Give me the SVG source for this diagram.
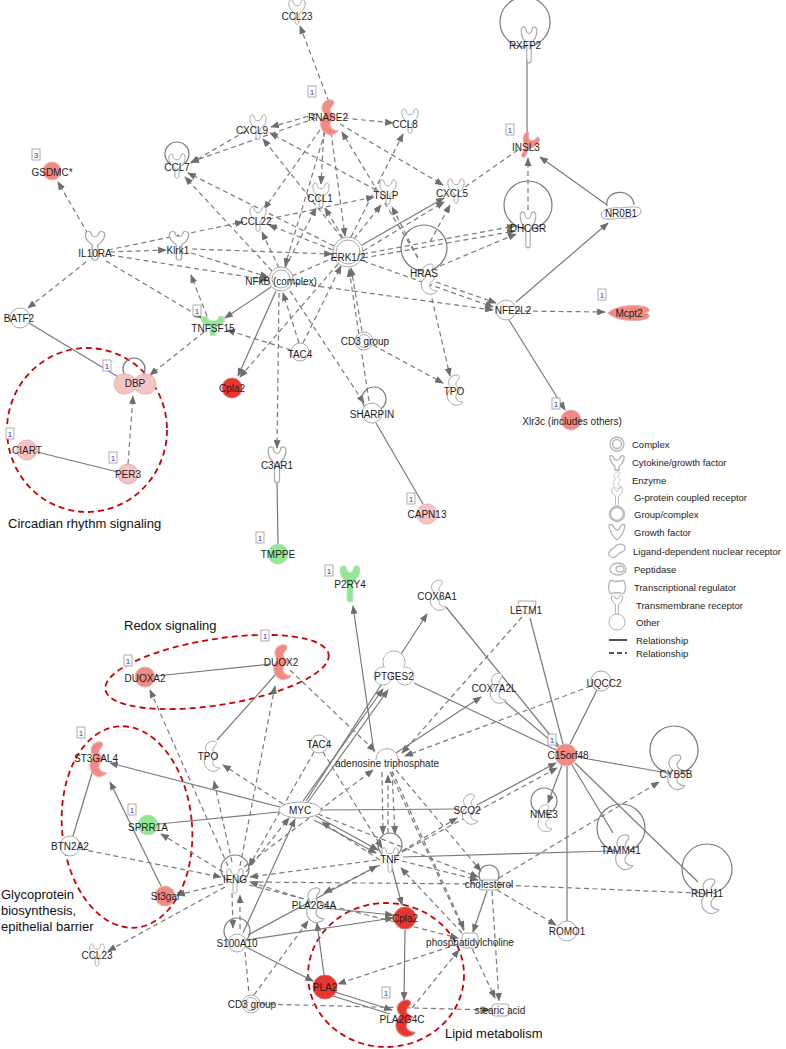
<svg xmlns="http://www.w3.org/2000/svg" width="786" height="1049" viewBox="0 0 786 1049">
<style>
.c{fill:none;stroke:#7a7a7a;stroke-width:1.2}
.d{stroke-dasharray:5 3.5}
.a{marker-end:url(#ah)}
.lp{fill:none;stroke:#7a7a7a;stroke-width:1.2}
.n{fill:#fff;stroke:#a8a8a8;stroke-width:1}
.r1{fill:#e8352e;stroke:#e07070;stroke-width:1}
.r2{fill:#f28a83;stroke:#eab0b0;stroke-width:1}
.r3{fill:#f6c2c2;stroke:#e0b4b4;stroke-width:1}
.g{fill:#92e892;stroke:#b8e0b8;stroke-width:1}
.t{font-family:"Liberation Sans",Arial,sans-serif;font-size:10px;fill:#1e1e1e;text-anchor:middle;dominant-baseline:central}
.lg{font-family:"Liberation Sans",Arial,sans-serif;font-size:9.5px;fill:#1e1e1e;dominant-baseline:central}
.an{font-family:"Liberation Sans",Arial,sans-serif;font-size:13px;fill:#111}
.bx{fill:#fff;stroke:#9a9a9a;stroke-width:0.8}
.bt{font-family:"Liberation Sans",Arial,sans-serif;font-size:8px;fill:#3333cc;text-anchor:middle;dominant-baseline:central}
.rd{fill:none;stroke:#cc0000;stroke-width:1.8;stroke-dasharray:6 4}
.li{fill:#fff;stroke:#b4b4b4;stroke-width:1.3}
.lt{stroke:#555;stroke-width:2}
</style>
<defs>
<marker id="ah" viewBox="0 0 10 8" refX="9" refY="4" markerWidth="9" markerHeight="7" markerUnits="userSpaceOnUse" orient="auto"><path d="M0,0 L10,4 L0,8 z" fill="#6e6e6e"/></marker>
<path id="enz" d="M2,-15 C-6,-14 -8,-6 -2,-2 C-9,2 -8,12 0,15 C4,16 8,14 9,12 C4,12 1,9 2,5 C3,2 6,1 7,-1 C2,-3 0,-6 4,-10 C6,-12 6,-15 2,-15 Z"/>
<path id="cyt" d="M-8,-10 C-9,-3 -4,0 -2,2 L-2,10 C-2,13 2,13 2,10 L2,2 C4,0 9,-3 8,-10 C7,-13 4,-13 4,-10 C3,-5 -3,-5 -4,-10 C-4,-13 -7,-13 -8,-10 Z"/>
<path id="gpc" d="M-7,-13 C-8,-5 -3,-3 -2,-1 L-2,12 C-2,15 2,15 2,12 L2,-1 C3,-3 8,-5 7,-13 C6,-15 3,-15 3,-13 C2,-8 -2,-8 -3,-13 C-3,-15 -6,-15 -7,-13 Z"/>
<path id="treg" d="M-11,-10 C-24,-10 -24,10 -11,10 C-5,10 -1,7 0,5 C1,7 5,10 11,10 C24,10 24,-10 11,-10 C5,-10 1,-7 0,-5 C-1,-7 -5,-10 -11,-10 Z"/>
<path id="pep" d="M-21,0 C-14,-8 8,-9 17,-6 C22,-4 21,0 15,0 C21,0 22,4 17,6 C8,9 -14,8 -21,0 Z"/>
<path id="ldn" d="M-20,2 C-20,-4 -8,-6 0,-5 C8,-6 20,-8 20,-2 C20,4 8,6 0,5 C-8,6 -20,8 -20,2 Z"/>
<path id="cup" d="M-9,-6 L9,-6 C9,2 4,7 0,7 C-4,7 -9,2 -9,-6 Z"/>
</defs>
<rect width="786" height="1049" fill="#fff"/>

<g id="annotations">
<ellipse class="rd" cx="87" cy="430" rx="80" ry="82"/>
<ellipse class="rd" cx="217" cy="672" rx="113" ry="33" transform="rotate(-9 217 672)"/>
<ellipse class="rd" cx="127" cy="827" rx="65" ry="101" transform="rotate(-5 127 827)"/>
<ellipse class="rd" cx="386" cy="975" rx="78" ry="72"/>
<text class="an" x="8" y="528">Circadian rhythm signaling</text>
<text class="an" x="124" y="630">Redox signaling</text>
<text class="an" x="1" y="899">Glycoprotein</text>
<text class="an" x="1" y="915">biosynthesis,</text>
<text class="an" x="1" y="931">epithelial barrier</text>
<text class="an" x="445" y="1038">Lipid metabolism</text>
</g>

<g id="connectors">
<path class="c d a" d="M329,102 L300,26"/>
<path class="c d a" d="M316,114 L271,127"/>
<path class="c d a" d="M344,118 L393,123"/>
<path class="c d a" d="M316,118 L191,162"/>
<path class="c d a" d="M340,124 L443,185"/>
<path class="c d a" d="M324,130 L321,184"/>
<path class="c d a" d="M320,130 L264,209"/>
<path class="c d a" d="M331,132 L345,236"/>
<path class="c d a" d="M325,132 L285,266"/>
<path class="c d a" d="M418,258 L342,132"/>
<path class="c d a" d="M376,190 L270,133"/>
<path class="c d a" d="M246,131 L191,163"/>
<path class="c d a" d="M342,238 L263,139"/>
<path class="c d a" d="M334,246 L188,173"/>
<path class="c d a" d="M272,271 L185,177"/>
<path class="c d a" d="M333,250 L269,225"/>
<path class="c d a" d="M108,250 L243,222"/>
<path class="c d a" d="M110,252 L166,250"/>
<path class="c d a" d="M88,234 L58,182"/>
<path class="c d a" d="M86,262 L28,308"/>
<path class="c d a" d="M110,255 L268,280"/>
<path class="c d a" d="M106,261 L202,318"/>
<path class="c d a" d="M191,253 L268,277"/>
<path class="c d a" d="M192,249 L332,254"/>
<path class="c d" d="M292,276 L333,258"/>
<path class="c d a" d="M268,219 L374,197"/>
<path class="c d a" d="M343,238 L325,208"/>
<path class="c d a" d="M354,239 L381,205"/>
<path class="c d a" d="M351,237 L403,134"/>
<path class="c a" d="M362,245 L444,198"/>
<path class="c d a" d="M363,251 L444,202"/>
<path class="c d a" d="M285,268 L316,208"/>
<path class="c d a" d="M363,254 L515,226"/>
<path class="c d a" d="M363,258 L515,231"/>
<path class="c d a" d="M440,266 L516,234"/>
<path class="c d a" d="M528,210 L528,158"/>
<path class="c" d="M527,58 L527,134"/>
<path class="c a" d="M607,205 L540,157"/>
<path class="c a" d="M516,302 L608,223"/>
<path class="c d a" d="M516,311 L605,312"/>
<path class="c a" d="M509,320 L565,410"/>
<path class="c d a" d="M363,261 L493,307"/>
<path class="c d a" d="M294,283 L493,310"/>
<path class="c d a" d="M436,282 L496,303"/>
<path class="c d" d="M518,150 L465,187"/>
<path class="c d a" d="M430,290 L450,376"/>
<path class="c d a" d="M430,242 L450,205"/>
<path class="c d a" d="M418,258 L392,207"/>
<path class="c d a" d="M373,345 L443,383"/>
<path class="c d a" d="M362,331 L351,268"/>
<path class="c d a" d="M369,401 L349,269"/>
<path class="c d a" d="M290,291 L364,403"/>
<path class="c" d="M376,423 L423,504"/>
<path class="c d a" d="M279,293 L277,448"/>
<path class="c" d="M277,482 L278,544"/>
<path class="c a" d="M276,291 L238,376"/>
<path class="c d a" d="M338,264 L240,377"/>
<path class="c a" d="M271,287 L225,318"/>
<path class="c d a" d="M291,350 L227,330"/>
<path class="c d a" d="M299,343 L283,293"/>
<path class="c d a" d="M303,343 L341,266"/>
<path class="c d a" d="M204,332 L150,375"/>
<path class="c" d="M29,323 L120,378"/>
<path class="c d a" d="M128,464 L133,396"/>
<path class="c" d="M37,452 L118,472"/>
<path class="c d a" d="M207,316 L191,275"/>
<path class="c d a" d="M279,268 L262,232"/>

<path class="c" d="M156,676 L271,664"/>
<path class="c" d="M217,740 L276,674"/>
<path class="c d a" d="M290,670 L375,751"/>
<path class="c d a" d="M228,866 L150,690"/>
<path class="c d a" d="M240,866 L275,686"/>
<path class="c d a" d="M232,862 L214,781"/>
<path class="c d a" d="M283,804 L223,765"/>
<path class="c a" d="M280,807 L110,763"/>
<path class="c" d="M92,773 L73,836"/>
<path class="c a" d="M161,886 L110,782"/>
<path class="c" d="M279,812 L159,824"/>
<path class="c d a" d="M223,872 L161,834"/>
<path class="c d a" d="M80,849 L221,877"/>
<path class="c d a" d="M223,884 L177,895"/>
<path class="c d a" d="M225,887 L108,951"/>
<path class="c d a" d="M232,893 L233,928"/>
<path class="c d a" d="M240,929 L240,895"/>
<path class="c d" d="M245,952 L249,994"/>
<path class="c a" d="M303,801 L383,689"/>
<path class="c a" d="M308,802 L388,690"/>
<path class="c a" d="M306,801 L427,614"/>
<path class="c a" d="M374,752 L353,606"/>
<path class="c" d="M446,607 L559,746"/>
<path class="c" d="M530,618 L563,744"/>
<path class="c d a" d="M522,617 L402,753"/>
<path class="c" d="M414,683 L556,750"/>
<path class="c a" d="M396,753 L481,697"/>
<path class="c" d="M503,700 L558,747"/>
<path class="c" d="M597,690 L570,744"/>
<path class="c d a" d="M591,686 L405,756"/>
<path class="c" d="M577,757 L662,772"/>
<path class="c" d="M572,765 L613,833"/>
<path class="c" d="M575,763 L698,882"/>
<path class="c" d="M567,766 L567,921"/>
<path class="c a" d="M562,765 L548,803"/>
<path class="c a" d="M477,805 L556,763"/>
<path class="c d a" d="M402,852 L557,768"/>
<path class="c" d="M321,810 L459,809"/>
<path class="c d a" d="M402,851 L457,818"/>
<path class="c" d="M403,857 L610,851"/>
<path class="c d a" d="M499,878 L659,782"/>
<path class="c d" d="M499,885 L697,893"/>
<path class="c d a" d="M497,890 L556,925"/>
<path class="c a" d="M487,891 L473,932"/>
<path class="c d a" d="M492,891 L499,1001"/>
<path class="c d a" d="M402,861 L478,880"/>
<path class="c d a" d="M462,933 L401,868"/>
<path class="c a" d="M392,868 L402,905"/>
<path class="c a" d="M405,930 L404,1000"/>
<path class="c a" d="M324,975 L317,923"/>
<path class="c a" d="M335,992 L392,1010"/>
<path class="c" d="M333,996 L390,1014"/>
<path class="c d a" d="M458,944 L338,984"/>
<path class="c d a" d="M412,1008 L459,950"/>
<path class="c d a" d="M261,1004 L490,1010"/>
<path class="c a" d="M246,947 L313,981"/>
<path class="c a" d="M247,940 L393,918"/>
<path class="c a" d="M324,908 L393,915"/>
<path class="c d a" d="M380,865 L324,893"/>
<path class="c a" d="M316,816 L378,850"/>
<path class="c a" d="M314,820 L376,853"/>
<path class="c d a" d="M380,860 L322,822"/>
<path class="c d a" d="M382,772 L383,834"/>
<path class="c d a" d="M392,772 L395,834"/>
<path class="c d a" d="M388,833 L388,775"/>
<path class="c d a" d="M246,872 L289,818"/>
<path class="c d a" d="M244,867 L373,770"/>
<path class="c d a" d="M377,860 L250,877"/>
<path class="c d a" d="M304,899 L250,882"/>
<path class="c d a" d="M396,770 L481,871"/>
<path class="c d a" d="M392,771 L464,929"/>
<path class="c d a" d="M390,772 L495,998"/>
<path class="c d" d="M250,882 L476,884"/>
<path class="c d a" d="M323,752 L382,848"/>
<path class="c d a" d="M314,752 L249,866"/>
<path class="c d a" d="M254,995 L308,921"/>
<path class="c a" d="M243,933 L295,819"/>
<path class="c a" d="M248,935 L377,866"/>
<path class="c d a" d="M249,885 L458,938"/>
<path class="c d a" d="M318,814 L478,877"/>
</g>

<g id="n-ccl23a"><use href="#cyt" class="n" transform="translate(297,12)"/><text class="t" x="297" y="16">CCL23</text></g>
<g id="n-rnase2"><use href="#enz" class="r2" transform="translate(328,117) scale(1.1,1.15)"/><text class="t" x="328" y="117">RNASE2</text><rect class="bx" x="308" y="86" width="8" height="11"/><text class="bt" x="312" y="92">1</text></g>
<g id="n-cxcl9"><use href="#cyt" class="n" transform="translate(258,127)"/><text class="t" x="252" y="130">CXCL9</text></g>
<g id="n-ccl8"><use href="#cyt" class="n" transform="translate(410,121)"/><text class="t" x="405" y="124">CCL8</text></g>
<g id="n-ccl7"><circle class="lp" cx="177" cy="154" r="12"/><use href="#cyt" class="n" transform="translate(177,166)"/><text class="t" x="177" y="167">CCL7</text></g>
<g id="n-gsdmc"><circle class="r2" cx="52" cy="171" r="9"/><text class="t" x="52" y="172">GSDMC*</text><rect class="bx" x="32" y="149" width="8" height="11"/><text class="bt" x="36" y="155">3</text></g>
<g id="n-ccl1"><use href="#cyt" class="n" transform="translate(321,195)"/><text class="t" x="320" y="198">CCL1</text></g>
<g id="n-tslp"><use href="#cyt" class="n" transform="translate(388,192)"/><text class="t" x="386" y="195">TSLP</text></g>
<g id="n-cxcl5"><use href="#cyt" class="n" transform="translate(456,191)"/><text class="t" x="452" y="193">CXCL5</text></g>
<g id="n-ccl22"><use href="#cyt" class="n" transform="translate(258,219)"/><text class="t" x="256" y="221">CCL22</text></g>
<g id="n-il10ra"><use href="#gpc" class="n" transform="translate(95,246) scale(1.35,1)"/><text class="t" x="95" y="253">IL10RA</text></g>
<g id="n-klrk1"><use href="#gpc" class="n" transform="translate(179,246) scale(1.35,1)"/><text class="t" x="178" y="250">Klrk1</text></g>
<g id="n-erk"><circle class="n" cx="348" cy="252" r="15"/><circle class="n" cx="348" cy="252" r="12"/><text class="t" x="348" y="257">ERK1/2</text></g>
<g id="n-hras"><circle class="lp" cx="424" cy="248" r="23"/><use href="#enz" class="n" transform="translate(428,279)"/><text class="t" x="424" y="273">HRAS</text></g>
<g id="n-dhcgr"><circle class="lp" cx="528" cy="205" r="24"/><use href="#gpc" class="n" transform="translate(528,230) scale(1.1,1.25)"/><text class="t" x="528" y="228">DHCGR</text></g>
<g id="n-rxfp2"><circle class="lp" cx="525" cy="22" r="25"/><use href="#gpc" class="n" transform="translate(529,45) scale(1.1,1.25)"/><text class="t" x="525" y="45">RXFP2</text></g>
<g id="n-insl3"><use href="#cyt" class="r2" transform="translate(528,146) rotate(25)"/><text class="t" x="526" y="147">INSL3</text><rect class="bx" x="506" y="124" width="8" height="11"/><text class="bt" x="510" y="130">1</text></g>
<g id="n-nr0b1"><path class="lp" d="M607,206 C604,190 632,186 634,205"/><use href="#ldn" class="n" transform="translate(621,213)"/><text class="t" x="621" y="213">NR0B1</text></g>
<g id="n-nfkb"><circle class="n" cx="281" cy="279" r="12"/><circle class="n" cx="281" cy="279" r="9"/><text class="t" x="281" y="281">NFkB (complex)</text></g>
<g id="n-nfe2l2"><circle class="n" cx="506" cy="310" r="10"/><text class="t" x="513" y="310">NFE2L2</text></g>
<g id="n-mcpt2"><use href="#pep" class="r2" transform="translate(629,313)"/><text class="t" x="629" y="313">Mcpt2</text><rect class="bx" x="598" y="289" width="8" height="11"/><text class="bt" x="602" y="295">1</text></g>
<g id="n-batf2"><circle class="n" cx="20" cy="318" r="10"/><text class="t" x="19" y="318">BATF2</text></g>
<g id="n-tnfsf15"><use href="#cyt" class="g" transform="translate(213,326) scale(1.4,0.8)"/><text class="t" x="213" y="328">TNFSF15</text><rect class="bx" x="193" y="305" width="8" height="11"/><text class="bt" x="197" y="311">1</text></g>
<g id="n-tac4a"><circle class="n" cx="300" cy="352" r="9"/><text class="t" x="300" y="354">TAC4</text></g>
<g id="n-cd3a"><circle class="n" cx="364" cy="341" r="9"/><circle class="n" cx="364" cy="341" r="6.5"/><text class="t" x="365" y="341">CD3 group</text></g>
<g id="n-dbp"><circle class="lp" cx="134" cy="369" r="11"/><use href="#treg" class="r3" transform="translate(135,384)"/><text class="t" x="135" y="383">DBP</text><rect class="bx" x="103" y="360" width="8" height="11"/><text class="bt" x="107" y="366">1</text></g>
<g id="n-cpla2a"><circle class="r1" cx="232" cy="388" r="10"/><text class="t" x="232" y="388">Cpla2</text></g>
<g id="n-tpoa"><use href="#enz" class="n" transform="translate(454,390)"/><text class="t" x="454" y="391">TPO</text></g>
<g id="n-sharpin"><circle class="lp" cx="374" cy="399" r="12"/><circle class="n" cx="372" cy="413" r="10"/><text class="t" x="372" y="414">SHARPIN</text></g>
<g id="n-xlr3c"><circle class="r2" cx="571" cy="420" r="10"/><text class="t" x="572" y="421">Xlr3c (includes others)</text><rect class="bx" x="552" y="398" width="8" height="11"/><text class="bt" x="556" y="404">1</text></g>
<g id="n-ciart"><circle class="r3" cx="27" cy="450" r="10"/><text class="t" x="27" y="450">CIART</text><rect class="bx" x="6" y="428" width="8" height="11"/><text class="bt" x="10" y="434">1</text></g>
<g id="n-per3"><circle class="r3" cx="128" cy="474" r="10"/><text class="t" x="128" y="474">PER3</text><rect class="bx" x="109" y="452" width="8" height="11"/><text class="bt" x="113" y="458">1</text></g>
<g id="n-c3ar1"><use href="#gpc" class="n" transform="translate(277,465) scale(1.25)"/><text class="t" x="277" y="465">C3AR1</text></g>
<g id="n-capn13"><circle class="r3" cx="427" cy="514" r="10"/><text class="t" x="427" y="514">CAPN13</text><rect class="bx" x="407" y="493" width="8" height="11"/><text class="bt" x="411" y="499">1</text></g>
<g id="n-tmppe"><circle class="g" cx="278" cy="554" r="10"/><text class="t" x="278" y="554">TMPPE</text><rect class="bx" x="256" y="532" width="8" height="11"/><text class="bt" x="260" y="538">1</text></g>

<g id="n-p2ry4"><use href="#gpc" class="g" transform="translate(350,584) scale(1.35,1.25)"/><text class="t" x="350" y="584">P2RY4</text><rect class="bx" x="325" y="565" width="8" height="11"/><text class="bt" x="329" y="571">1</text></g>
<g id="n-cox6a1"><use href="#enz" class="n" transform="translate(437,595)"/><text class="t" x="437" y="596">COX6A1</text></g>
<g id="n-letm1"><use href="#cup" class="n" transform="translate(527,607)"/><text class="t" x="526" y="610">LETM1</text></g>
<g id="n-duox2"><use href="#enz" class="r2" transform="translate(281,662) scale(1.1,1.15)"/><text class="t" x="281" y="662">DUOX2</text><rect class="bx" x="261" y="630" width="8" height="11"/><text class="bt" x="265" y="636">1</text></g>
<g id="n-duoxa2"><circle class="r2" cx="145" cy="677" r="10"/><text class="t" x="145" y="678">DUOXA2</text><rect class="bx" x="124" y="655" width="8" height="11"/><text class="bt" x="128" y="661">1</text></g>
<g id="n-ptges2"><circle class="n" cx="394" cy="662" r="11"/><circle class="n" cx="383" cy="676" r="9"/><circle class="n" cx="405" cy="676" r="9"/><circle cx="394" cy="662" r="10.5" fill="#fff"/><circle cx="383" cy="676" r="8.5" fill="#fff"/><circle cx="405" cy="676" r="8.5" fill="#fff"/><text class="t" x="394" y="676">PTGES2</text></g>
<g id="n-cox7a2l"><use href="#enz" class="n" transform="translate(497,688)"/><text class="t" x="494" y="688">COX7A2L</text></g>
<g id="n-uqcc2"><circle class="n" cx="601" cy="681" r="10"/><text class="t" x="604" y="683">UQCC2</text></g>
<g id="n-c15orf48"><circle class="r2" cx="566" cy="755" r="11"/><text class="t" x="568" y="755">C15orf48</text><rect class="bx" x="548" y="734" width="8" height="11"/><text class="bt" x="552" y="740">1</text></g>
<g id="n-tpob"><use href="#enz" class="n" transform="translate(211,756)"/><text class="t" x="208" y="756">TPO</text></g>
<g id="n-tac4b"><circle class="n" cx="319" cy="744" r="9"/><text class="t" x="319" y="744">TAC4</text></g>
<g id="n-st3gal4"><use href="#enz" class="r2" transform="translate(97,759) scale(1.05,1.15)"/><text class="t" x="96" y="758">ST3GAL4</text><rect class="bx" x="77" y="727" width="8" height="11"/><text class="bt" x="81" y="733">1</text></g>
<g id="n-atp"><path class="n" d="M376,760 C376,745 398,745 398,760"/><text class="t" x="387" y="763">adenosine triphosphate</text></g>
<g id="n-cyb5b"><circle class="lp" cx="674" cy="750" r="24"/><use href="#enz" class="n" transform="translate(675,772) scale(1.1,1.15)"/><text class="t" x="676" y="774">CYB5B</text></g>
<g id="n-myc"><ellipse class="n" cx="300" cy="810" rx="21" ry="8"/><text class="t" x="300" y="810">MYC</text></g>
<g id="n-sco2"><use href="#enz" class="n" transform="translate(469,809)"/><text class="t" x="467" y="810">SCO2</text></g>
<g id="n-nme3"><circle class="lp" cx="544" cy="801" r="13"/><use href="#enz" class="n" transform="translate(544,818) scale(0.9)"/><text class="t" x="544" y="814">NME3</text></g>
<g id="n-sprr1a"><circle class="g" cx="148" cy="825" r="10"/><text class="t" x="148" y="827">SPRR1A</text><rect class="bx" x="128" y="804" width="8" height="11"/><text class="bt" x="132" y="810">1</text></g>
<g id="n-btn2a2"><circle class="n" cx="70" cy="846" r="10"/><text class="t" x="70" y="846">BTN2A2</text></g>
<g id="n-tnf"><circle class="lp" cx="390" cy="845" r="12"/><use href="#cyt" class="n" transform="translate(390,860)"/><text class="t" x="390" y="859">TNF</text></g>
<g id="n-tamm41"><circle class="lp" cx="621" cy="828" r="24"/><use href="#enz" class="n" transform="translate(623,852) scale(1.1,1.15)"/><text class="t" x="621" y="850">TAMM41</text></g>
<g id="n-ifng"><circle class="lp" cx="235" cy="869" r="14"/><use href="#cyt" class="n" transform="translate(235,881)"/><text class="t" x="235" y="879">IFNG</text></g>
<g id="n-cholesterol"><circle class="lp" cx="489" cy="875" r="10"/><rect class="n" x="479" y="880" width="20" height="10" rx="3"/><text class="t" x="489" y="884">cholesterol</text></g>
<g id="n-rdh11"><circle class="lp" cx="707" cy="869" r="25"/><use href="#enz" class="n" transform="translate(709,896) scale(1.1,1.15)"/><text class="t" x="707" y="893">RDH11</text></g>
<g id="n-st3gal"><circle class="r2" cx="165" cy="896" r="10"/><text class="t" x="165" y="896">St3gal</text></g>
<g id="n-pla2g4a"><use href="#enz" class="n" transform="translate(314,905) scale(1.1,1.15)"/><text class="t" x="314" y="905">PLA2G4A</text></g>
<g id="n-cpla2b"><circle class="r1" cx="405" cy="918" r="11"/><text class="t" x="405" y="918">Cpla2</text></g>
<g id="n-pc"><rect class="n" x="462" y="933" width="16" height="15" rx="3"/><text class="t" x="470" y="942">phosphatidylcholine</text></g>
<g id="n-s100a10"><circle class="lp" cx="237" cy="931" r="13"/><circle class="n" cx="237" cy="943" r="9"/><text class="t" x="237" y="943">S100A10</text></g>
<g id="n-romo1"><circle class="n" cx="567" cy="931" r="10"/><text class="t" x="567" y="931">ROMO1</text></g>
<g id="n-ccl23b"><use href="#cyt" class="n" transform="translate(97,955) scale(0.9)"/><text class="t" x="97" y="955">CCL23</text></g>
<g id="n-cd3b"><circle class="n" cx="251" cy="1004" r="9"/><circle class="n" cx="251" cy="1004" r="6.5"/><text class="t" x="252" y="1004">CD3 group</text></g>
<g id="n-pla2"><circle class="r1" cx="325" cy="987" r="12"/><text class="t" x="325" y="987">PLA2</text></g>
<g id="n-stearic"><rect class="n" x="492" y="1004" width="17" height="12" rx="3"/><text class="t" x="500" y="1010">stearic acid</text></g>
<g id="n-pla2g4c"><use href="#enz" class="r1" transform="translate(404,1018) scale(1.2,1.2)"/><text class="t" x="402" y="1019">PLA2G4C</text><rect class="bx" x="382" y="987" width="8" height="11"/><text class="bt" x="386" y="993">1</text></g>

<g id="legend">
<circle class="li" cx="617" cy="444" r="7"/><circle class="li" cx="617" cy="444" r="4.5"/><text class="lg" x="632" y="444">Complex</text>
<path class="li" d="M610,456 C609,462 614,465 615,467 L615,470 L619,470 L619,467 C620,465 625,462 624,456 C622,455 621,456 620,458 C619,461 615,461 614,458 C613,456 612,455 610,456 Z"/><text class="lg" x="632" y="462">Cytokine/growth factor</text>
<use href="#enz" class="li" transform="translate(617,480) scale(0.55)"/><text class="lg" x="632" y="480">Enzyme</text>
<use href="#gpc" class="li" transform="translate(617,497) scale(0.75,0.65)"/><text class="lg" x="634" y="497">G-protein coupled receptor</text>
<circle cx="617" cy="514" r="7" fill="#fff" stroke="#bbb" stroke-width="2.5"/><text class="lg" x="634" y="514">Group/complex</text>
<path class="li" d="M609,525 C609,531 614,538 617,540 C620,538 625,531 625,525 C623,524 621,525 620,527 C619,531 615,531 614,527 C613,525 611,524 609,525 Z"/><text class="lg" x="634" y="532">Growth factor</text>
<path class="li" d="M609,555 C607,551 613,549 615,547 C617,543 625,543 625,548 C626,552 620,552 618,554 C616,558 611,559 609,555 Z"/><text class="lg" x="633" y="551">Ligand-dependent nuclear receptor</text>
<ellipse class="li" cx="618" cy="569" rx="8" ry="6"/><ellipse class="li" cx="620" cy="569" rx="4" ry="3"/><text class="lg" x="634" y="569">Peptidase</text>
<path class="li" d="M610,581 C613,579 615,583 617,581 C619,583 621,579 624,581 C626,585 626,589 624,593 C621,595 619,591 617,593 C615,591 613,595 610,593 C608,589 608,585 610,581 Z"/><text class="lg" x="634" y="587">Transcriptional regulator</text>
<use href="#gpc" class="li" transform="translate(617,605) scale(0.8,0.65)"/><text class="lg" x="636" y="605">Transmembrane receptor</text>
<circle cx="617" cy="622" r="8" fill="#fff" stroke="#b4b4b4" stroke-width="1"/><text class="lg" x="636" y="622">Other</text>
<path class="lt" d="M609,640 L627,640"/><text class="lg" x="636" y="640">Relationship</text>
<path class="lt" d="M609,653 L627,653" stroke-dasharray="5 3"/><text class="lg" x="636" y="653">Relationship</text>
</g>
</svg>
